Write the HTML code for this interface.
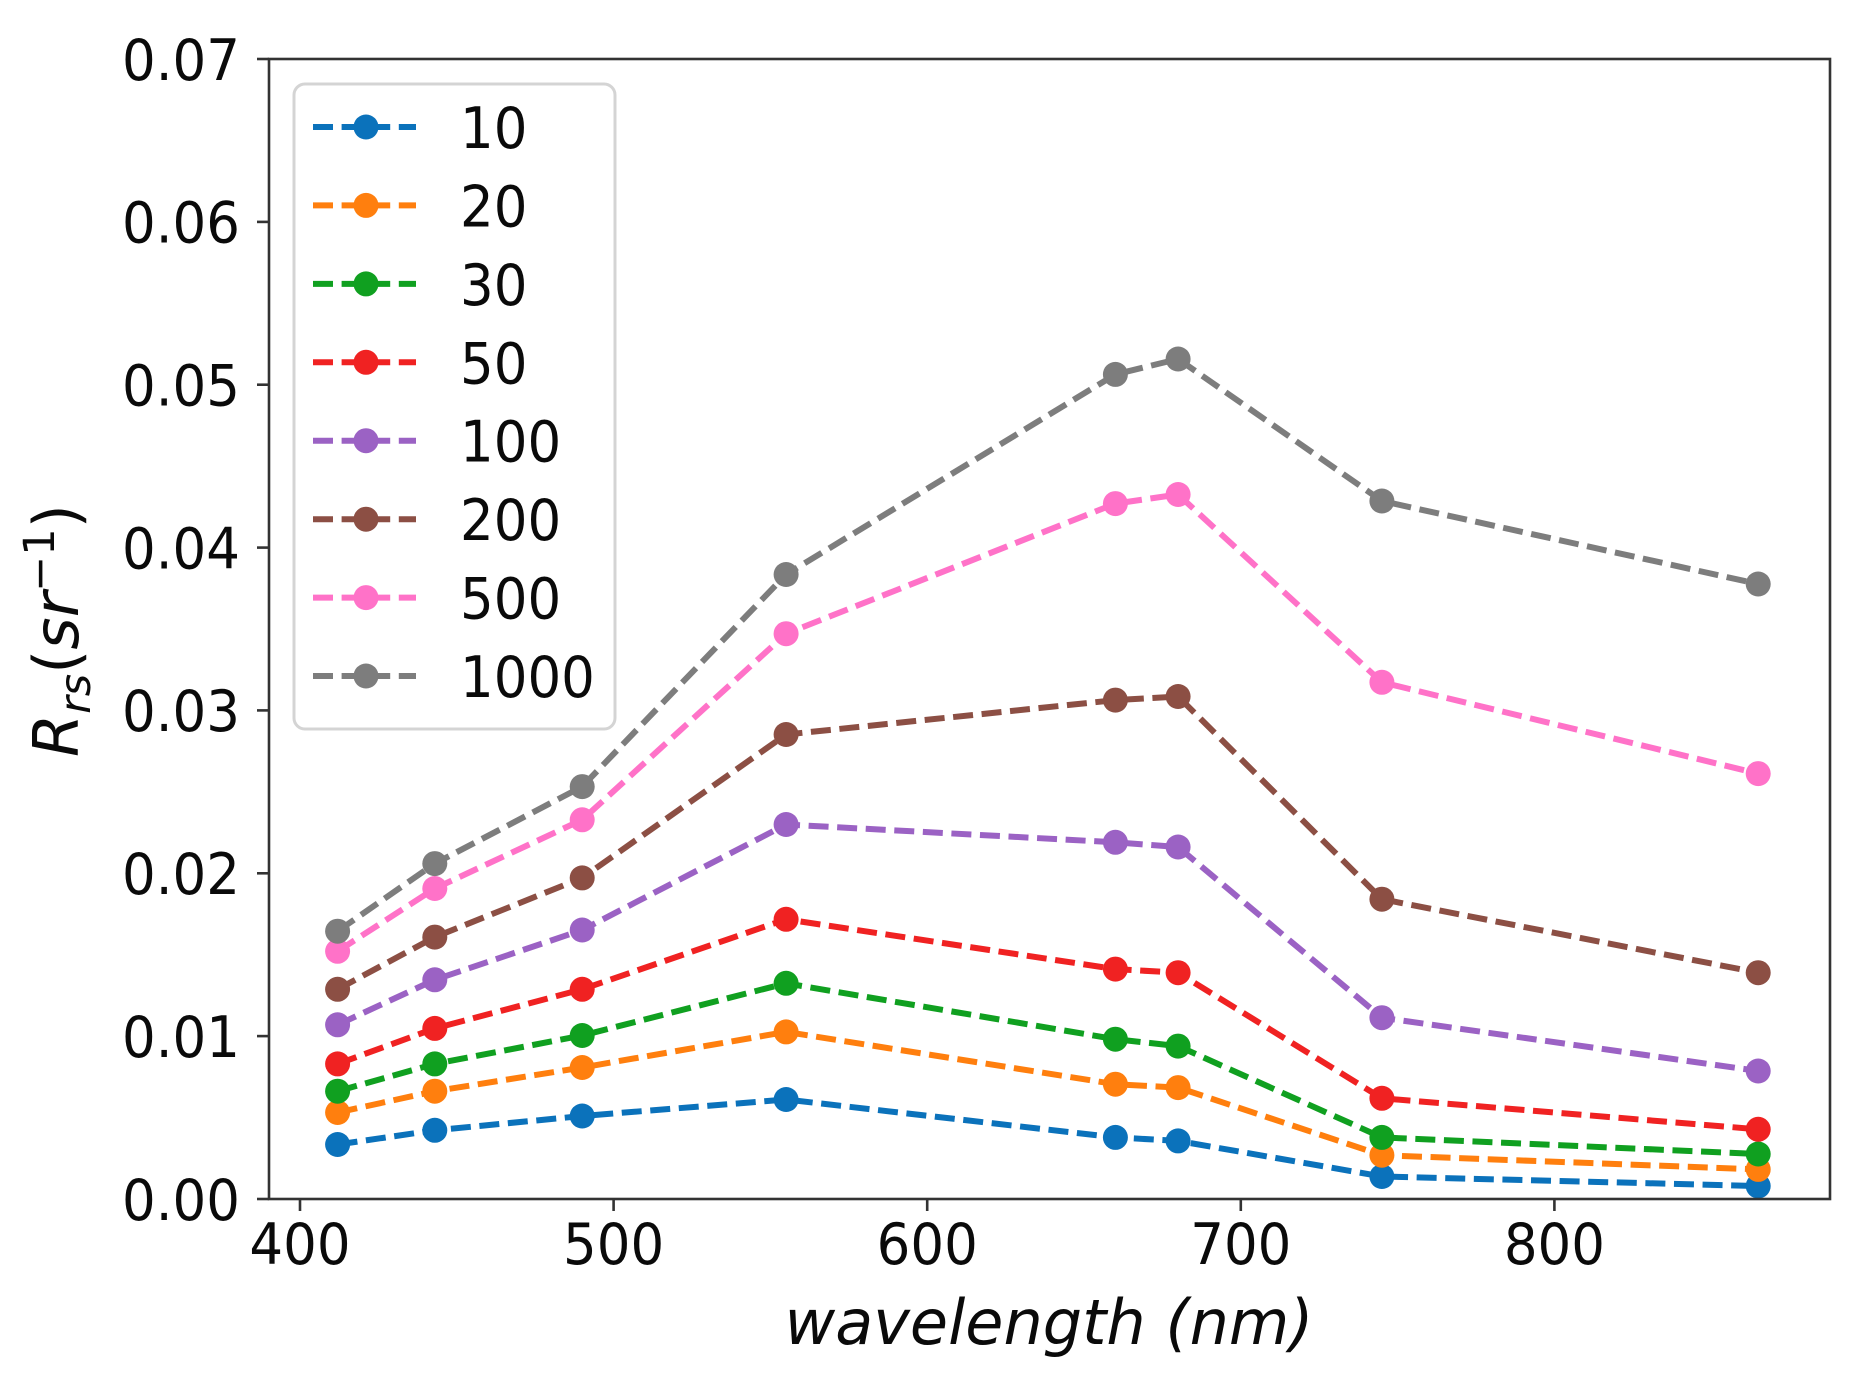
<!DOCTYPE html>
<html>
<head>
<meta charset="utf-8">
<style>
  html,body{margin:0;padding:0;background:#fff;}
  svg{display:block;}
  text{font-family:"DejaVu Sans","Liberation Sans",sans-serif;fill:#0a0a0a;}
</style>
</head>
<body>
<svg width="1859" height="1379" viewBox="0 0 1859 1379" xmlns="http://www.w3.org/2000/svg">
  <defs>
    <clipPath id="ax"><rect x="269" y="59" width="1561" height="1140"/></clipPath>
  </defs>
  <rect x="0" y="0" width="1859" height="1379" fill="#fff"/>

  <!-- series -->
  <g clip-path="url(#ax)" fill="none" stroke-width="6" stroke-dasharray="20 8.6">
    <!-- 10 -->
    <polyline stroke="#0b72bb" points="337.6,1144.5 434.8,1130.3 582.2,1116.0 786.1,1099.5 1115.4,1137.4 1178.1,1140.9 1381.9,1176.5 1758.2,1186.0"/>
    <g fill="#0b72bb" stroke="none">
      <circle cx="337.6" cy="1144.5" r="12.5"/><circle cx="434.8" cy="1130.3" r="12.5"/><circle cx="582.2" cy="1116.0" r="12.5"/><circle cx="786.1" cy="1099.5" r="12.5"/><circle cx="1115.4" cy="1137.4" r="12.5"/><circle cx="1178.1" cy="1140.9" r="12.5"/><circle cx="1381.9" cy="1176.5" r="12.5"/><circle cx="1758.2" cy="1186.0" r="12.5"/>
    </g>
    <!-- 20 -->
    <polyline stroke="#ff7f0e" points="337.6,1112.5 434.8,1091.2 582.2,1067.5 786.1,1031.9 1115.4,1084.2 1178.1,1087.6 1381.9,1155.2 1758.2,1169.4"/>
    <g fill="#ff7f0e" stroke="none">
      <circle cx="337.6" cy="1112.5" r="12.5"/><circle cx="434.8" cy="1091.2" r="12.5"/><circle cx="582.2" cy="1067.5" r="12.5"/><circle cx="786.1" cy="1031.9" r="12.5"/><circle cx="1115.4" cy="1084.2" r="12.5"/><circle cx="1178.1" cy="1087.6" r="12.5"/><circle cx="1381.9" cy="1155.2" r="12.5"/><circle cx="1758.2" cy="1169.4" r="12.5"/>
    </g>
    <!-- 30 -->
    <polyline stroke="#10a020" points="337.6,1091.2 434.8,1063.9 582.2,1035.5 786.1,983.3 1115.4,1039.2 1178.1,1046.1 1381.9,1137.4 1758.2,1154.0"/>
    <g fill="#10a020" stroke="none">
      <circle cx="337.6" cy="1091.2" r="12.5"/><circle cx="434.8" cy="1063.9" r="12.5"/><circle cx="582.2" cy="1035.5" r="12.5"/><circle cx="786.1" cy="983.3" r="12.5"/><circle cx="1115.4" cy="1039.2" r="12.5"/><circle cx="1178.1" cy="1046.1" r="12.5"/><circle cx="1381.9" cy="1137.4" r="12.5"/><circle cx="1758.2" cy="1154.0" r="12.5"/>
    </g>
    <!-- 50 -->
    <polyline stroke="#f02222" points="337.6,1063.9 434.8,1028.4 582.2,989.3 786.1,919.3 1115.4,969.1 1178.1,972.7 1381.9,1098.3 1758.2,1129.3"/>
    <g fill="#f02222" stroke="none">
      <circle cx="337.6" cy="1063.9" r="12.5"/><circle cx="434.8" cy="1028.4" r="12.5"/><circle cx="582.2" cy="989.3" r="12.5"/><circle cx="786.1" cy="919.3" r="12.5"/><circle cx="1115.4" cy="969.1" r="12.5"/><circle cx="1178.1" cy="972.7" r="12.5"/><circle cx="1381.9" cy="1098.3" r="12.5"/><circle cx="1758.2" cy="1129.3" r="12.5"/>
    </g>
    <!-- 100 -->
    <polyline stroke="#9b62c4" points="337.6,1024.8 434.8,979.8 582.2,930.0 786.1,824.5 1115.4,842.3 1178.1,847.0 1381.9,1017.7 1758.2,1071.0"/>
    <g fill="#9b62c4" stroke="none">
      <circle cx="337.6" cy="1024.8" r="12.5"/><circle cx="434.8" cy="979.8" r="12.5"/><circle cx="582.2" cy="930.0" r="12.5"/><circle cx="786.1" cy="824.5" r="12.5"/><circle cx="1115.4" cy="842.3" r="12.5"/><circle cx="1178.1" cy="847.0" r="12.5"/><circle cx="1381.9" cy="1017.7" r="12.5"/><circle cx="1758.2" cy="1071.0" r="12.5"/>
    </g>
    <!-- 200 -->
    <polyline stroke="#8c4f44" points="337.6,989.3 434.8,937.1 582.2,877.9 786.1,734.5 1115.4,700.1 1178.1,696.5 1381.9,899.2 1758.2,972.7"/>
    <g fill="#8c4f44" stroke="none">
      <circle cx="337.6" cy="989.3" r="12.5"/><circle cx="434.8" cy="937.1" r="12.5"/><circle cx="582.2" cy="877.9" r="12.5"/><circle cx="786.1" cy="734.5" r="12.5"/><circle cx="1115.4" cy="700.1" r="12.5"/><circle cx="1178.1" cy="696.5" r="12.5"/><circle cx="1381.9" cy="899.2" r="12.5"/><circle cx="1758.2" cy="972.7" r="12.5"/>
    </g>
    <!-- 500 -->
    <polyline stroke="#ff72c8" points="337.6,951.3 434.8,888.5 582.2,819.8 786.1,633.7 1115.4,503.6 1178.1,494.5 1381.9,682.3 1758.2,773.6"/>
    <g fill="#ff72c8" stroke="none">
      <circle cx="337.6" cy="951.3" r="12.5"/><circle cx="434.8" cy="888.5" r="12.5"/><circle cx="582.2" cy="819.8" r="12.5"/><circle cx="786.1" cy="633.7" r="12.5"/><circle cx="1115.4" cy="503.6" r="12.5"/><circle cx="1178.1" cy="494.5" r="12.5"/><circle cx="1381.9" cy="682.3" r="12.5"/><circle cx="1758.2" cy="773.6" r="12.5"/>
    </g>
    <!-- 1000 -->
    <polyline stroke="#7d7d7d" points="337.6,931.2 434.8,863.6 582.2,786.6 786.1,574.5 1115.4,374.4 1178.1,359.0 1381.9,501.0 1758.2,584.0"/>
    <g fill="#7d7d7d" stroke="none">
      <circle cx="337.6" cy="931.2" r="12.5"/><circle cx="434.8" cy="863.6" r="12.5"/><circle cx="582.2" cy="786.6" r="12.5"/><circle cx="786.1" cy="574.5" r="12.5"/><circle cx="1115.4" cy="374.4" r="12.5"/><circle cx="1178.1" cy="359.0" r="12.5"/><circle cx="1381.9" cy="501.0" r="12.5"/><circle cx="1758.2" cy="584.0" r="12.5"/>
    </g>
  </g>

  <!-- spines -->
  <rect x="269" y="59" width="1561" height="1140" fill="none" stroke="#333" stroke-width="2.6"/>

  <!-- y ticks -->
  <g stroke="#333" stroke-width="2.6">
    <line x1="257" y1="59" x2="269" y2="59"/>
    <line x1="257" y1="221.9" x2="269" y2="221.9"/>
    <line x1="257" y1="384.7" x2="269" y2="384.7"/>
    <line x1="257" y1="547.6" x2="269" y2="547.6"/>
    <line x1="257" y1="710.4" x2="269" y2="710.4"/>
    <line x1="257" y1="873.3" x2="269" y2="873.3"/>
    <line x1="257" y1="1036.1" x2="269" y2="1036.1"/>
    <line x1="257" y1="1199" x2="269" y2="1199"/>
  </g>
  <g font-size="57" text-anchor="end">
    <text transform="translate(240,79.8) scale(0.93,1)">0.07</text>
    <text transform="translate(240,242.7) scale(0.93,1)">0.06</text>
    <text transform="translate(240,405.5) scale(0.93,1)">0.05</text>
    <text transform="translate(240,568.4) scale(0.93,1)">0.04</text>
    <text transform="translate(240,731.2) scale(0.93,1)">0.03</text>
    <text transform="translate(240,894.1) scale(0.93,1)">0.02</text>
    <text transform="translate(240,1056.9) scale(0.93,1)">0.01</text>
    <text transform="translate(240,1219.8) scale(0.93,1)">0.00</text>
  </g>

  <!-- x ticks -->
  <g stroke="#333" stroke-width="2.6">
    <line x1="300" y1="1199" x2="300" y2="1211"/>
    <line x1="613.6" y1="1199" x2="613.6" y2="1211"/>
    <line x1="927.2" y1="1199" x2="927.2" y2="1211"/>
    <line x1="1240.8" y1="1199" x2="1240.8" y2="1211"/>
    <line x1="1554.4" y1="1199" x2="1554.4" y2="1211"/>
  </g>
  <g font-size="57" text-anchor="middle">
    <text transform="translate(300,1264) scale(0.93,1)">400</text>
    <text transform="translate(613.6,1264) scale(0.93,1)">500</text>
    <text transform="translate(927.2,1264) scale(0.93,1)">600</text>
    <text transform="translate(1240.8,1264) scale(0.93,1)">700</text>
    <text transform="translate(1554.4,1264) scale(0.93,1)">800</text>
  </g>

  <!-- axis labels -->
  <text x="1049" y="1344" font-size="62" font-style="italic" text-anchor="middle">wavelength (nm)</text>
  <text transform="translate(78,757) rotate(-90)" x="0" y="0" font-size="62"><tspan font-style="italic">R</tspan><tspan font-style="italic" font-size="43" dy="12">rs</tspan><tspan dy="-12">(</tspan><tspan font-style="italic">sr</tspan><tspan font-size="43" dy="-24">−1</tspan><tspan dy="24">)</tspan></text>

  <!-- legend -->
  <rect x="294" y="84" width="321" height="645" rx="11" ry="11" fill="#fff" fill-opacity="0.9" stroke="#d4d4d4" stroke-width="3"/>
  <g stroke-width="6" stroke-dasharray="20 8.6" fill="none">
    <line x1="313" y1="127" x2="416" y2="127" stroke="#0b72bb"/>
    <line x1="313" y1="205.4" x2="416" y2="205.4" stroke="#ff7f0e"/>
    <line x1="313" y1="283.9" x2="416" y2="283.9" stroke="#10a020"/>
    <line x1="313" y1="362.3" x2="416" y2="362.3" stroke="#f02222"/>
    <line x1="313" y1="440.7" x2="416" y2="440.7" stroke="#9b62c4"/>
    <line x1="313" y1="519.2" x2="416" y2="519.2" stroke="#8c4f44"/>
    <line x1="313" y1="597.6" x2="416" y2="597.6" stroke="#ff72c8"/>
    <line x1="313" y1="676" x2="416" y2="676" stroke="#7d7d7d"/>
  </g>
  <g>
    <circle cx="366" cy="127" r="12.5" fill="#0b72bb"/>
    <circle cx="366" cy="205.4" r="12.5" fill="#ff7f0e"/>
    <circle cx="366" cy="283.9" r="12.5" fill="#10a020"/>
    <circle cx="366" cy="362.3" r="12.5" fill="#f02222"/>
    <circle cx="366" cy="440.7" r="12.5" fill="#9b62c4"/>
    <circle cx="366" cy="519.2" r="12.5" fill="#8c4f44"/>
    <circle cx="366" cy="597.6" r="12.5" fill="#ff72c8"/>
    <circle cx="366" cy="676" r="12.5" fill="#7d7d7d"/>
  </g>
  <g font-size="57">
    <text transform="translate(460,148) scale(0.93,1)">10</text>
    <text transform="translate(460,226.4) scale(0.93,1)">20</text>
    <text transform="translate(460,304.9) scale(0.93,1)">30</text>
    <text transform="translate(460,383.3) scale(0.93,1)">50</text>
    <text transform="translate(460,461.7) scale(0.93,1)">100</text>
    <text transform="translate(460,540.2) scale(0.93,1)">200</text>
    <text transform="translate(460,618.6) scale(0.93,1)">500</text>
    <text transform="translate(460,697) scale(0.93,1)">1000</text>
  </g>
</svg>
</body>
</html>
